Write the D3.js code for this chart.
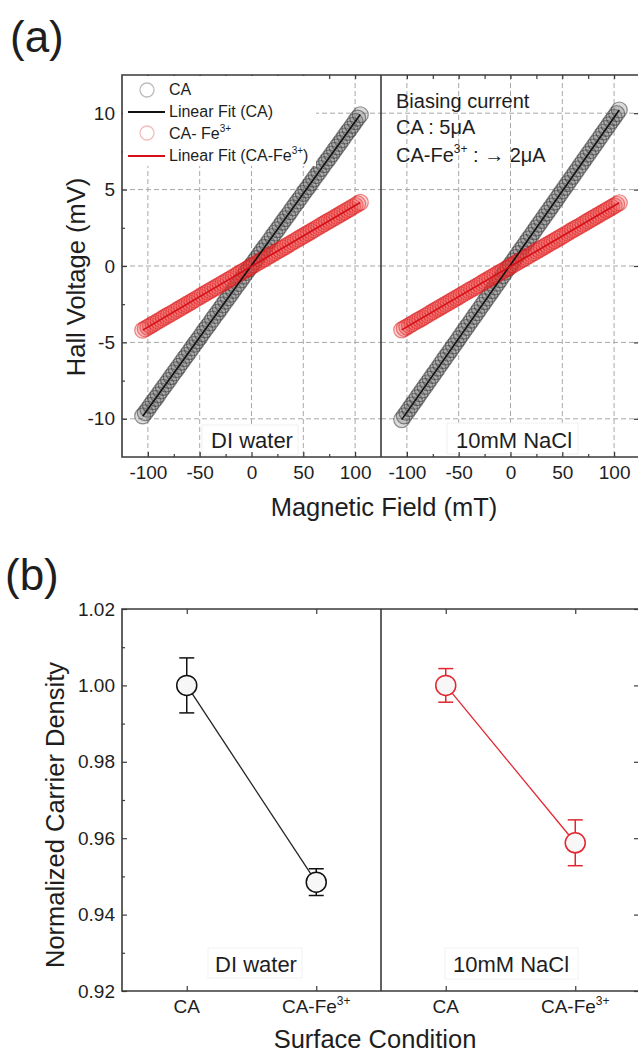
<!DOCTYPE html>
<html><head><meta charset="utf-8">
<script src="https://cdn.jsdelivr.net/npm/d3@7"></script>
<style>
body{margin:0;background:#fff}
svg{display:block}
text{font-family:"Liberation Sans",Arial,sans-serif;fill:#1e1e1e}
</style>
</head><body>
<svg id="c" width="638" height="1055"></svg>
<script>
// ---------------- DATA ----------------
// (a) Hall voltage vs magnetic field
const fieldB = [-105,-102.5,-100,-97.5,-95,-92.5,-90,-87.5,-85,-82.5,-80,-77.5,-75,-72.5,-70,-67.5,-65,-62.5,-60,-57.5,-55,-52.5,-50,-47.5,-45,-42.5,-40,-37.5,-35,-32.5,-30,-27.5,-25,-22.5,-20,-17.5,-15,-12.5,-10,-7.5,-5,-2.5,0,2.5,5,7.5,10,12.5,15,17.5,20,22.5,25,27.5,30,32.5,35,37.5,40,42.5,45,47.5,50,52.5,55,57.5,60,62.5,65,67.5,70,72.5,75,77.5,80,82.5,85,87.5,90,92.5,95,97.5,100,102.5,105];
const caDI   = [-9.81,-9.60,-9.37,-9.12,-8.88,-8.66,-8.43,-8.18,-7.94,-7.72,-7.49,-7.24,-7.00,-6.78,-6.55,-6.30,-6.06,-5.84,-5.61,-5.36,-5.12,-4.90,-4.67,-4.42,-4.18,-3.96,-3.73,-3.48,-3.24,-3.02,-2.79,-2.54,-2.30,-2.08,-1.85,-1.60,-1.36,-1.14,-0.91,-0.66,-0.42,-0.19,0.05,0.28,0.50,0.74,0.99,1.22,1.44,1.68,1.93,2.16,2.38,2.62,2.87,3.10,3.32,3.56,3.81,4.04,4.26,4.50,4.75,4.98,5.20,5.44,5.69,5.92,6.14,6.38,6.63,6.86,7.08,7.32,7.57,7.80,8.02,8.26,8.51,8.74,8.96,9.20,9.45,9.68,9.90];
const feDI   = [-4.20,-4.10,-4.00,-3.90,-3.80,-3.70,-3.60,-3.50,-3.40,-3.30,-3.20,-3.11,-3.01,-2.91,-2.81,-2.71,-2.61,-2.51,-2.41,-2.31,-2.21,-2.11,-2.01,-1.91,-1.81,-1.71,-1.61,-1.51,-1.41,-1.31,-1.21,-1.12,-1.02,-0.92,-0.82,-0.72,-0.62,-0.52,-0.42,-0.32,-0.22,-0.12,-0.02,0.08,0.18,0.28,0.38,0.48,0.58,0.68,0.78,0.88,0.98,1.07,1.17,1.27,1.37,1.47,1.57,1.67,1.77,1.87,1.97,2.07,2.17,2.27,2.37,2.47,2.57,2.67,2.77,2.87,2.97,3.06,3.16,3.26,3.36,3.46,3.56,3.66,3.76,3.86,3.96,4.06,4.16];
const caNaCl = [-10.05,-9.81,-9.57,-9.33,-9.09,-8.85,-8.61,-8.36,-8.12,-7.88,-7.64,-7.40,-7.16,-6.92,-6.68,-6.43,-6.19,-5.95,-5.71,-5.47,-5.23,-4.99,-4.75,-4.50,-4.26,-4.02,-3.78,-3.54,-3.30,-3.06,-2.82,-2.57,-2.33,-2.09,-1.85,-1.61,-1.37,-1.13,-0.89,-0.64,-0.40,-0.16,0.08,0.32,0.56,0.81,1.05,1.29,1.53,1.77,2.01,2.25,2.49,2.74,2.98,3.22,3.46,3.70,3.94,4.18,4.42,4.67,4.91,5.15,5.39,5.63,5.87,6.11,6.35,6.60,6.84,7.08,7.32,7.56,7.80,8.04,8.28,8.53,8.77,9.01,9.25,9.49,9.73,9.97,10.21];
const feNaCl = [-4.18,-4.08,-3.98,-3.88,-3.78,-3.68,-3.58,-3.49,-3.39,-3.29,-3.19,-3.09,-2.99,-2.89,-2.79,-2.69,-2.59,-2.50,-2.40,-2.30,-2.20,-2.10,-2.00,-1.90,-1.80,-1.70,-1.60,-1.51,-1.41,-1.31,-1.21,-1.11,-1.01,-0.91,-0.81,-0.71,-0.61,-0.52,-0.42,-0.32,-0.22,-0.12,-0.02,0.08,0.18,0.28,0.38,0.48,0.57,0.67,0.77,0.87,0.97,1.07,1.17,1.27,1.37,1.47,1.56,1.66,1.76,1.86,1.96,2.06,2.16,2.26,2.36,2.46,2.55,2.65,2.75,2.85,2.95,3.05,3.15,3.25,3.35,3.45,3.54,3.64,3.74,3.84,3.94,4.04,4.14];
const mediumLabels = ["DI water", "10mM NaCl"];
const fieldTicks = [-100,-50,0,50,100];
const fieldMinorTicks = [-75,-25,25,75];
const voltTicks = [-10,-5,0,5,10];
const voltMinorTicks = [-7.5,-2.5,2.5,7.5];
const legendLabels = ["CA", "Linear Fit (CA)", "CA- Fe", "Linear Fit (CA-Fe"];
const biasLines = ["Biasing current", "CA : 5\u03bcA", "CA-Fe"];

// (b) Normalized carrier density
const conditions = ["CA", "CA-Fe"];
const densDI    = [1.000, 0.9485];
const errDI     = [0.0072, 0.0035];
const densNaCl  = [1.000, 0.9588];
const errNaCl   = [0.0044, 0.0060];
const densTicks = [0.92,0.94,0.96,0.98,1.00,1.02];
const densMinorTicks = [0.93,0.95,0.97,0.99,1.01];

// ---------------- DRAWING ----------------
const svg = d3.select("#c");
const FRAME = "#3a3a3a", GRID = "#a8a8a8";
const BLK = "#111", RED = "#d40f17", RED2 = "#e3262f";

function styleAxis(g, size) {
  g.select(".domain").remove();
  g.attr("font-family", '"Liberation Sans",Arial,sans-serif').attr("font-size", size || 19);
  g.selectAll(".tick line").attr("stroke", FRAME).attr("stroke-width", 1.2);
  g.selectAll(".tick text").attr("fill", "#1e1e1e");
}
const fmtInt = d => String(d);

// ===== Panel (a) =====
const yTop = d3.scaleLinear([-12.5, 12.5], [457, 75]);
const topPanels = [
  {x: d3.scaleLinear([-125,125],[122,381]), ca: caDI, fe: feDI, label: mediumLabels[0], box:[202,425,96,30], lx:252, ly:448},
  {x: d3.scaleLinear([-125,125],[381,640]), ca: caNaCl, fe: feNaCl, label: mediumLabels[1], box:[447,423,131,31], lx:514, ly:448}
];

function fit(xs, ys) {
  const n = Math.min(xs.length, ys.length);
  const X = xs.slice(0,n), Y = ys.slice(0,n);
  const mx = d3.mean(X), my = d3.mean(Y);
  let sxy = 0, sxx = 0;
  X.forEach((x,i) => { sxy += (x-mx)*(Y[i]-my); sxx += (x-mx)*(x-mx); });
  const b = sxy/sxx; return {b, a: my - b*mx};
}

topPanels.forEach((p, pi) => {
  const g = svg.append("g");
  const [x0, x1] = p.x.range();
  g.selectAll(".gv").data(fieldTicks).join("line")
    .attr("x1", d => p.x(d)).attr("x2", d => p.x(d)).attr("y1", 75).attr("y2", 457)
    .attr("stroke", GRID).attr("stroke-width", 1).attr("stroke-dasharray", "5,3");
  g.selectAll(".gh").data(voltTicks).join("line")
    .attr("x1", x0).attr("x2", x1).attr("y1", d => yTop(d)).attr("y2", d => yTop(d))
    .attr("stroke", GRID).attr("stroke-width", 1).attr("stroke-dasharray", "5,3");
  // scatter
  [[p.ca, "#2a2a2a", "#5a5a5a", 0.5, 0.22], [p.fe, "#e01818", "#ee4444", 0.5, 0.22]].forEach(([vals, sc, fc, so, fo]) => {
    g.append("g").selectAll("circle").data(vals.slice(0, fieldB.length)).join("circle")
      .attr("cx", (d,i) => p.x(fieldB[i])).attr("cy", d => yTop(d)).attr("r", 8)
      .attr("fill", fc).attr("fill-opacity", fo)
      .attr("stroke", sc).attr("stroke-opacity", so).attr("stroke-width", 1.2);
  });
  [[p.ca, BLK], [p.fe, RED]].forEach(([vals, col]) => {
    const f = fit(fieldB, vals);
    const bx = d3.extent(fieldB);
    g.append("line")
      .attr("x1", p.x(bx[0])).attr("y1", yTop(f.a + f.b*bx[0]))
      .attr("x2", p.x(bx[1])).attr("y2", yTop(f.a + f.b*bx[1]))
      .attr("stroke", col).attr("stroke-width", 1.6);
  });
  g.append("rect").attr("x", p.box[0]).attr("y", p.box[1]).attr("width", p.box[2]).attr("height", p.box[3])
    .attr("fill", "#fff").attr("stroke", "#f0f0f0");
  g.append("text").attr("x", p.lx).attr("y", p.ly).attr("text-anchor", "middle")
    .attr("font-size", 22).text(p.label);
  const ab = g.append("g").attr("transform", "translate(0,457)")
    .call(d3.axisBottom(p.x).tickValues(fieldTicks).tickSize(-5).tickPadding(9).tickFormat(fmtInt));
  styleAxis(ab);
  const abm = g.append("g").attr("transform", "translate(0,457)")
    .call(d3.axisBottom(p.x).tickValues(fieldMinorTicks).tickSize(-3).tickFormat(""));
  styleAxis(abm);
  const at = g.append("g").attr("transform", "translate(0,75)")
    .call(d3.axisTop(p.x).tickValues(fieldTicks.concat(fieldMinorTicks)).tickSize(-4).tickFormat(""));
  styleAxis(at);
});

{
  const al = svg.append("g").attr("transform", "translate(122,0)")
    .call(d3.axisLeft(yTop).tickValues(voltTicks).tickSize(-5).tickPadding(7).tickFormat(fmtInt));
  styleAxis(al);
  const alm = svg.append("g").attr("transform", "translate(122,0)")
    .call(d3.axisLeft(yTop).tickValues(voltMinorTicks).tickSize(-3).tickFormat(""));
  styleAxis(alm);
  const ar = svg.append("g").attr("transform", "translate(639,0)")
    .call(d3.axisRight(yTop).tickValues(voltTicks).tickSize(-5).tickFormat(""));
  styleAxis(ar);
}

// legend (a)
{
  const lg = svg.append("g");
  lg.append("rect").attr("x", 123).attr("y", 76).attr("width", 193).attr("height", 90).attr("fill", "#fff");
  const rows = [
    {type: "circle", col: "#bdbdbd", y: 90, base: 95},
    {type: "line", col: BLK, y: 112, base: 117},
    {type: "circle", col: "#f4bcbc", y: 133, base: 139},
    {type: "line", col: RED, y: 156, base: 161}
  ];
  rows.forEach((r, i) => {
    if (r.type === "circle") {
      lg.append("circle").attr("cx", 147).attr("cy", r.y).attr("r", 7)
        .attr("fill", "none").attr("stroke", r.col).attr("stroke-width", 1.3);
    } else {
      lg.append("line").attr("x1", 128).attr("x2", 165).attr("y1", r.y).attr("y2", r.y)
        .attr("stroke", r.col).attr("stroke-width", 2);
    }
    const t = lg.append("text").attr("x", 169).attr("y", r.base).attr("font-size", 16).text(legendLabels[i]);
    if (i === 2) t.append("tspan").attr("font-size", 10).attr("dy", -7).text("3+");
    if (i === 3) { t.append("tspan").attr("font-size", 10).attr("dy", -7).text("3+");
                   t.append("tspan").attr("dy", 7).text(")"); }
  });
}

{
  const a = svg.append("g");
  a.append("text").attr("x", 396).attr("y", 108).attr("font-size", 20).text(biasLines[0]);
  a.append("text").attr("x", 396).attr("y", 134).attr("font-size", 20).text(biasLines[1]);
  const t = a.append("text").attr("x", 396).attr("y", 162).attr("font-size", 20).text(biasLines[2]);
  t.append("tspan").attr("font-size", 12).attr("dy", -9).text("3+");
  t.append("tspan").attr("dy", 9).text(" : \u2192 2\u03bcA");
}

{
  const f = svg.append("g").attr("stroke", FRAME).attr("stroke-width", 1.6).attr("fill", "none");
  f.append("path").attr("d", "M639,75H122V457H639");
  f.append("line").attr("x1", 381).attr("x2", 381).attr("y1", 75).attr("y2", 457);
}

svg.append("text").attr("x", 10).attr("y", 52).attr("font-size", 44).text("(a)");
svg.append("text").attr("x", 384).attr("y", 516).attr("text-anchor", "middle").attr("font-size", 25.5).text("Magnetic Field (mT)");
svg.append("text").attr("transform", "translate(85,277) rotate(-90)").attr("text-anchor", "middle").attr("font-size", 25.5).text("Hall Voltage (mV)");

// ===== Panel (b) =====
const yB = d3.scaleLinear([0.92, 1.02], [991, 609]);
const botPanels = [
  {x: d3.scaleLinear([0.5,2.5],[122,381]), v: densDI, e: errDI, col: BLK, lcol: "#222", label: mediumLabels[0], box:[208,948,94,30], lx:256, ly:972},
  {x: d3.scaleLinear([0.5,2.5],[381,640]), v: densNaCl, e: errNaCl, col: RED2, lcol: RED2, label: mediumLabels[1], box:[445,948,133,31], lx:511, ly:972}
];
botPanels.forEach(p => {
  const g = svg.append("g");
  const idx = conditions.map((c,i) => i+1);
  g.append("rect").attr("x", p.box[0]).attr("y", p.box[1]).attr("width", p.box[2]).attr("height", p.box[3])
    .attr("fill", "#fff").attr("stroke", "#f2f2f2");
  g.append("text").attr("x", p.lx).attr("y", p.ly).attr("text-anchor", "middle").attr("font-size", 22).text(p.label);
  g.append("path").attr("d", d3.line().x((d,i) => p.x(idx[i])).y(d => yB(d))(p.v))
    .attr("fill", "none").attr("stroke", p.lcol).attr("stroke-width", 1.3);
  p.v.forEach((d, i) => {
    const cx = p.x(idx[i]);
    const eg = g.append("g").attr("stroke", p.col).attr("stroke-width", 1.5);
    eg.append("line").attr("x1", cx).attr("x2", cx).attr("y1", yB(d + p.e[i])).attr("y2", yB(d - p.e[i]));
    eg.append("line").attr("x1", cx-7.5).attr("x2", cx+7.5).attr("y1", yB(d + p.e[i])).attr("y2", yB(d + p.e[i]));
    eg.append("line").attr("x1", cx-7.5).attr("x2", cx+7.5).attr("y1", yB(d - p.e[i])).attr("y2", yB(d - p.e[i]));
  });
  g.selectAll("circle").data(p.v).join("circle")
    .attr("cx", (d,i) => p.x(idx[i])).attr("cy", d => yB(d)).attr("r", 10)
    .attr("fill", "#f7f7f7").attr("stroke", p.col).attr("stroke-width", 1.5);
  const ab = g.append("g").attr("transform", "translate(0,991)")
    .call(d3.axisBottom(p.x).tickValues(idx).tickSize(-5).tickFormat(""));
  styleAxis(ab);
  const at = g.append("g").attr("transform", "translate(0,609)")
    .call(d3.axisTop(p.x).tickValues(idx).tickSize(-5).tickFormat(""));
  styleAxis(at);
  conditions.forEach((c, i) => {
    const t = g.append("text").attr("x", p.x(idx[i])).attr("y", 1013).attr("text-anchor", "middle")
      .attr("font-size", 19).text(c);
    if (i === 1) t.append("tspan").attr("font-size", 12).attr("dy", -8).text("3+");
  });
});
{
  const al = svg.append("g").attr("transform", "translate(122,0)")
    .call(d3.axisLeft(yB).tickValues(densTicks).tickSize(-5).tickPadding(7).tickFormat(d3.format(".2f")));
  styleAxis(al);
  const alm = svg.append("g").attr("transform", "translate(122,0)")
    .call(d3.axisLeft(yB).tickValues(densMinorTicks).tickSize(-3).tickFormat(""));
  styleAxis(alm);
  const ar = svg.append("g").attr("transform", "translate(639,0)")
    .call(d3.axisRight(yB).tickValues(densTicks).tickSize(-5).tickFormat(""));
  styleAxis(ar);
  const f = svg.append("g").attr("stroke", FRAME).attr("stroke-width", 1.6).attr("fill", "none");
  f.append("path").attr("d", "M639,609H122V991H639");
  f.append("line").attr("x1", 381).attr("x2", 381).attr("y1", 609).attr("y2", 991);
}
svg.append("text").attr("x", 5).attr("y", 590).attr("font-size", 44).text("(b)");
svg.append("text").attr("x", 375).attr("y", 1048).attr("text-anchor", "middle").attr("font-size", 25.5).text("Surface Condition");
svg.append("text").attr("transform", "translate(64,815) rotate(-90)").attr("text-anchor", "middle").attr("font-size", 25.5).text("Normalized Carrier Density");
</script>
</body></html>
